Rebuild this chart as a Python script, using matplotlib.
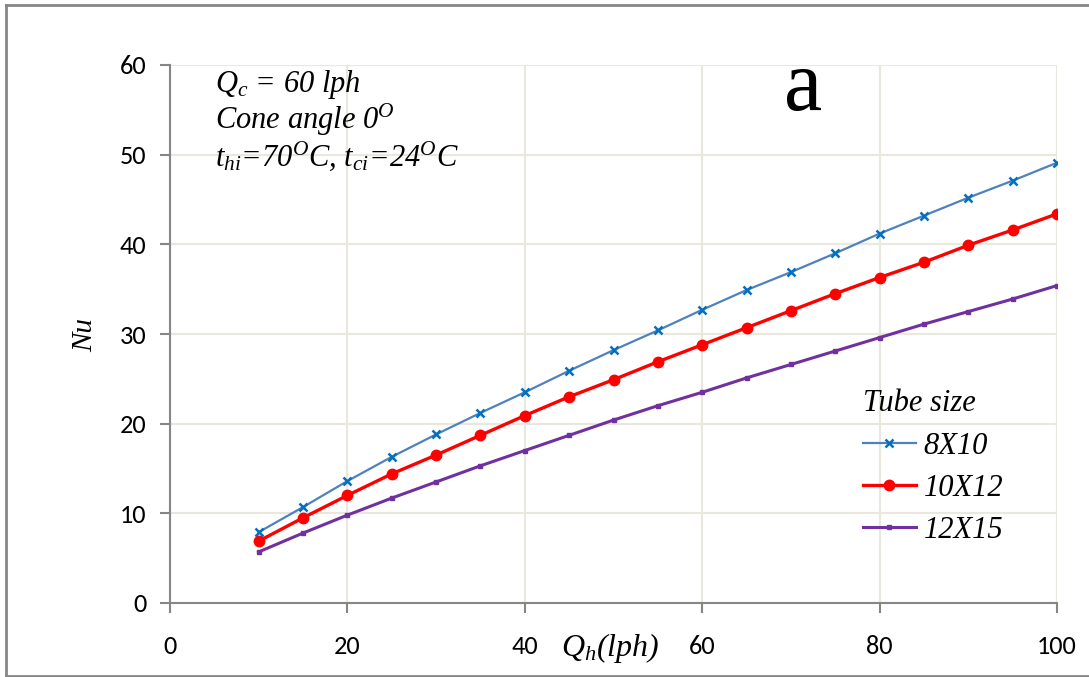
import matplotlib
matplotlib.use('Agg')
import matplotlib.pyplot as plt
from matplotlib.lines import Line2D

plt.rcParams['font.family'] = 'Liberation Serif'
plt.rcParams['font.style'] = 'italic'
plt.rcParams['mathtext.fontset'] = 'custom'
plt.rcParams['mathtext.it'] = 'Liberation Serif:italic'
plt.rcParams['mathtext.rm'] = 'Liberation Serif:italic'

# flow rate of hot water (lph)
qh = [10, 15, 20, 25, 30, 35, 40, 45, 50, 55, 60, 65, 70, 75, 80, 85, 90, 95, 100]

# Nusselt number for each tube size
nu_8x10 = [7.9, 10.7, 13.6, 16.3, 18.8, 21.2, 23.5, 25.9, 28.2, 30.4,
           32.7, 34.9, 36.9, 39.0, 41.2, 43.2, 45.2, 47.1, 49.1]
nu_10x12 = [6.9, 9.5, 12.0, 14.4, 16.5, 18.7, 20.9, 23.0, 24.9, 26.9,
            28.8, 30.7, 32.6, 34.5, 36.3, 38.0, 39.9, 41.6, 43.4]
nu_12x15 = [5.7, 7.8, 9.8, 11.7, 13.5, 15.3, 17.0, 18.7, 20.4, 22.0,
            23.5, 25.1, 26.6, 28.1, 29.6, 31.1, 32.5, 33.9, 35.4]

x_ticks = [0, 20, 40, 60, 80, 100]
y_ticks = [0, 10, 20, 30, 40, 50, 60]

axcol = '#868686'
gridcol = '#EAE7DC'
sans = ['Carlito', 'Open Sans', 'DejaVu Sans']

fig = plt.figure(figsize=(10.89, 6.77), dpi=100)
ax = fig.add_axes([170 / 1089, 1 - 603 / 677, (1057 - 170) / 1089, (603 - 65) / 677])

ax.plot(qh, nu_8x10, color='#4F81BD', lw=1.6, marker='x', ms=6, mew=1.8,
        mec='#0070C0', label='8X10', zorder=3)
ax.plot(qh, nu_10x12, color='#FF0000', lw=2.4, marker='o', ms=7.5,
        label='10X12', zorder=3)
ax.plot(qh, nu_12x15, color='#7030A0', lw=2.2, marker='s', ms=3.5,
        label='12X15', zorder=3)

ax.set_xlim(0, 100)
ax.set_ylim(0, 60)
ax.set_xticks(x_ticks)
ax.set_yticks(y_ticks)
ax.grid(True, color=gridcol, lw=1.5, zorder=0)
ax.set_axisbelow(True)

for side in ['top', 'right']:
    ax.spines[side].set_visible(False)
for side in ['left', 'bottom']:
    ax.spines[side].set_color(axcol)
    ax.spines[side].set_linewidth(1.5)
ax.tick_params(colors=axcol, width=1.5, length=7, direction='out', labelcolor='black',
               labelsize=19)
ax.tick_params(axis='x', pad=16)
ax.tick_params(axis='y', pad=10)
for lab in ax.get_xticklabels() + ax.get_yticklabels():
    lab.set_family(sans)
    lab.set_style('normal')

ax.text(-0.096, 0.498, 'Nu', transform=ax.transAxes, rotation=90,
        fontsize=21, ha='center', va='center')
ax.text(0.496, -0.084, r'$Q_h(lph)$', transform=ax.transAxes, fontsize=23,
        ha='center', va='center')

ax.text(0.051, 0.950, r'$Q_c$ = 60 lph', transform=ax.transAxes,
        fontsize=22, va='baseline')
ax.text(0.051, 0.881, r'Cone angle 0$^{O}$', transform=ax.transAxes,
        fontsize=22, va='baseline')
ax.text(0.051, 0.812, r'$t_{hi}$=70$^{O}$C, $t_{ci}$=24$^{O}$C', transform=ax.transAxes,
        fontsize=22, va='baseline')

ax.text(0.714, 0.916, 'a', transform=ax.transAxes, fontsize=62, style='normal',
        ha='center', va='baseline')

leg = ax.legend(loc='upper left', bbox_to_anchor=(0.781, 0.397), frameon=False,
                title='Tube size', prop={'size': 22, 'style': 'italic'},
                title_fontproperties={'size': 22, 'style': 'italic'},
                handlelength=1.75, labelspacing=0.43, handletextpad=0.25,
                borderaxespad=0, borderpad=0)
leg._legend_box.align = 'left'

# outer frame of the chart
for xs, ys in [([6, 6], [5, 676]), ([6, 1089], [5, 5]), ([6, 1089], [676, 676])]:
    fig.add_artist(Line2D([v / 1089 for v in xs], [1 - v / 677 for v in ys],
                          color=axcol, lw=2, transform=fig.transFigure))

fig.savefig('out.png', dpi=100, facecolor='white')
